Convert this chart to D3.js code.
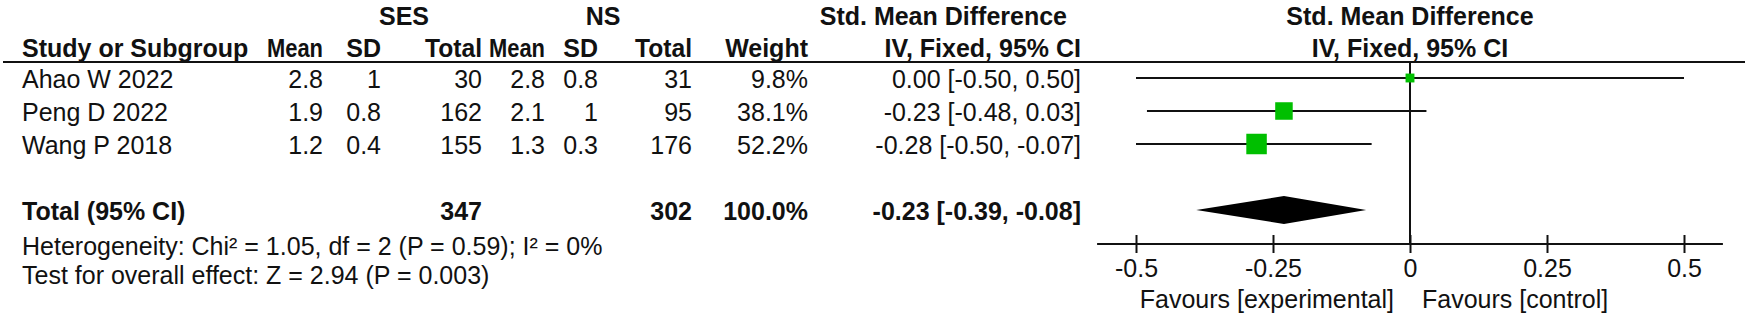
<!DOCTYPE html>
<html><head><meta charset="utf-8">
<script src="https://cdn.jsdelivr.net/npm/d3@7"></script>
<style>
html,body{margin:0;padding:0;background:#fff;}
text{font-family:"Liberation Sans",Arial,sans-serif;font-size:25px;fill:#111;}
.b{font-weight:bold;}
</style></head>
<body>
<svg id="c" width="1748" height="319"></svg>
<script>
const studies = ["Ahao W 2022", "Peng D 2022", "Wang P 2018"];
const sesMean = [2.8, 1.9, 1.2];
const sesSD = [1, 0.8, 0.4];
const sesTotal = [30, 162, 155];
const nsMean = [2.8, 2.1, 1.3];
const nsSD = [0.8, 1, 0.3];
const nsTotal = [31, 95, 176];
const weights = [9.8, 38.1, 52.2];
const smd = [0.00, -0.23, -0.28];
const ciLow = [-0.50, -0.48, -0.50];
const ciHigh = [0.50, 0.03, -0.07];
const total = {ses: 347, ns: 302, weight: "100.0%", est: -0.23, lo: -0.39, hi: -0.08};
const heterogeneity = "Heterogeneity: Chi² = 1.05, df = 2 (P = 0.59); I² = 0%";
const overall = "Test for overall effect: Z = 2.94 (P = 0.003)";
const tickValues = [-0.5, -0.25, 0, 0.25, 0.5];
const tickLabels = ["-0.5", "-0.25", "0", "0.25", "0.5"];
const favLeft = "Favours [experimental]";
const favRight = "Favours [control]";

const svg = d3.select("#c");
const x = d3.scaleLinear().domain([-0.5, 0.5]).range([1136, 1684]);
const rowY = d3.scalePoint().domain(studies).range([78, 144]);
const size = d3.scaleSqrt().domain([0, 52.2]).range([0, 20.5]);
const green = "#00bf00";

const loc = d3.formatLocale({decimal: ".", thousands: ",", grouping: [3], currency: ["", ""], minus: "-"});
const fmt2 = loc.format(".2f");
const ciText = (e, l, h) => `${fmt2(e)} [${fmt2(l)}, ${fmt2(h)}]`;

// column right edges
const col = {mean1: 323, sd1: 381, tot1: 482, mean2: 545, sd2: 598, tot2: 692, w: 808, ci: 1081};
const txtOff = 10;

// group headers
const g1 = 25, g2 = 57;
svg.append("text").attr("class","b").attr("x",404).attr("y",g1).attr("text-anchor","middle").text("SES");
svg.append("text").attr("class","b").attr("x",603).attr("y",g1).attr("text-anchor","middle").text("NS");
svg.append("text").attr("class","b").attr("x",1067).attr("y",g1).attr("text-anchor","end").text("Std. Mean Difference");
svg.append("text").attr("class","b").attr("x",x(0)).attr("y",g1).attr("text-anchor","middle").text("Std. Mean Difference");

const hdr = [["Study or Subgroup",22,"start"],["Mean",col.mean1,"end",56],["SD",col.sd1,"end"],["Total",col.tot1,"end",57],
  ["Mean",col.mean2,"end",56],["SD",col.sd2,"end"],["Total",col.tot2,"end",57],["Weight",col.w,"end"],["IV, Fixed, 95% CI",col.ci,"end"]];
hdr.forEach(h => {
  const t = svg.append("text").attr("class","b").attr("x",h[1]).attr("y",g2).attr("text-anchor",h[2]).text(h[0]);
  if (h[3]) t.attr("textLength",h[3]).attr("lengthAdjust","spacingAndGlyphs");
});
svg.append("text").attr("class","b").attr("x",x(0)).attr("y",g2).attr("text-anchor","middle").text("IV, Fixed, 95% CI");

// top rule
svg.append("line").attr("x1",3).attr("x2",1745).attr("y1",62).attr("y2",62).attr("stroke","#111").attr("stroke-width",2);

// rows
studies.forEach((s,i) => {
  const y = rowY(s) + txtOff;
  const cells = [[s,22,"start"],[sesMean[i],col.mean1],[sesSD[i],col.sd1],[sesTotal[i],col.tot1],
    [nsMean[i],col.mean2],[nsSD[i],col.sd2],[nsTotal[i],col.tot2],[weights[i].toFixed(1)+"%",col.w],
    [ciText(smd[i],ciLow[i],ciHigh[i]),col.ci]];
  cells.forEach(c => svg.append("text").attr("x",c[1]).attr("y",y).attr("text-anchor",c[2]||"end").text(c[0]));
});

// totals
const ty = 210;
svg.append("text").attr("class","b").attr("x",22).attr("y",ty+txtOff).text("Total (95% CI)");
svg.append("text").attr("class","b").attr("x",col.tot1).attr("y",ty+txtOff).attr("text-anchor","end").text(total.ses);
svg.append("text").attr("class","b").attr("x",col.tot2).attr("y",ty+txtOff).attr("text-anchor","end").text(total.ns);
svg.append("text").attr("class","b").attr("x",col.w).attr("y",ty+txtOff).attr("text-anchor","end").text(total.weight);
svg.append("text").attr("class","b").attr("x",col.ci).attr("y",ty+txtOff).attr("text-anchor","end").text(ciText(total.est,total.lo,total.hi));
svg.append("text").attr("x",22).attr("y",255).text(heterogeneity);
svg.append("text").attr("x",22).attr("y",284).text(overall);

// forest plot
const axisY = 244;
svg.append("line").attr("x1",x(0)).attr("x2",x(0)).attr("y1",62).attr("y2",axisY).attr("stroke","#111").attr("stroke-width",2);
studies.forEach((s,i) => {
  const y = rowY(s);
  svg.append("line").attr("x1",x(ciLow[i])).attr("x2",x(ciHigh[i])).attr("y1",y).attr("y2",y).attr("stroke","#111").attr("stroke-width",2);
  const w = size(weights[i]);
  svg.append("rect").attr("x",x(smd[i])-w/2).attr("y",y-w/2).attr("width",w).attr("height",w).attr("fill",green);
});
svg.append("polygon").attr("fill","#000")
  .attr("points",[[x(total.lo),ty],[x(total.est),ty-14],[x(total.hi),ty],[x(total.est),ty+14]].map(p=>p.join(",")).join(" "));

// axis
const axis = d3.axisBottom(x).tickValues(tickValues).tickFormat((d,i)=>tickLabels[i]).tickSize(0).tickPadding(0);
const ga = svg.append("g").attr("transform",`translate(0,${axisY})`).call(axis);
ga.select(".domain").remove();
ga.selectAll(".tick text").attr("y",33).attr("dy",0).style("font-size","25px").style("font-family","'Liberation Sans',Arial,sans-serif").attr("fill","#111");
ga.selectAll(".tick").append("line").attr("y1",-9).attr("y2",9).attr("stroke","#111").attr("stroke-width",2);
svg.append("line").attr("x1",x(-0.571)).attr("x2",x(0.571)).attr("y1",axisY).attr("y2",axisY).attr("stroke","#111").attr("stroke-width",2);
svg.append("text").attr("x",x(0)-16).attr("y",308).attr("text-anchor","end").text(favLeft);
svg.append("text").attr("x",x(0)+12).attr("y",308).text(favRight);
</script>
</body></html>
